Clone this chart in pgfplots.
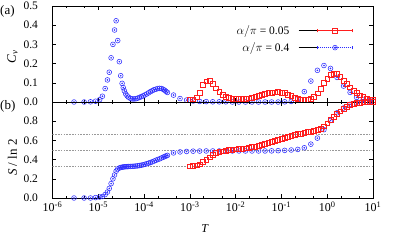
\documentclass[border=0pt]{standalone}
\usepackage{fontspec}
\setmainfont{Liberation Serif}
\usepackage{pgfplots}
\pgfplotsset{compat=1.18}
\usepackage{pgfplotstable}
\usetikzlibrary{plotmarks}

\definecolor{myred}{RGB}{255,30,30}
\definecolor{myblue}{RGB}{45,45,255}

\pgfdeclareplotmark{odot}{%
  \pgfpathcircle{\pgfpointorigin}{\pgfplotmarksize}\pgfusepathqstroke
  \pgfpathcircle{\pgfpointorigin}{0.38\pgfplotmarksize}\pgfusepathqfill}

% alpha/pi = 0.4 : low-T dense part
\pgfplotstableread{
T Cv S
2.951e-6 0.000 0.000
4.898e-6 0.000 0.000
6.761e-6 0.001 0.000
8.710e-6 0.004 0.004
1.0715e-5 0.012 0.010
1.2303e-5 0.030 0.016
1.4125e-5 0.070 0.036
1.5849e-5 0.115 0.062
1.7378e-5 0.155 0.100
1.9055e-5 0.230 0.150
2.0893e-5 0.300 0.200
2.2646e-5 0.375 0.240
2.4547e-5 0.423 0.280
2.6607e-5 0.320 0.303
2.8840e-5 0.210 0.312
3.0903e-5 0.137 0.318
3.3113e-5 0.097 0.321
3.5075e-5 0.075 0.323
3.7154e-5 0.058 0.325
3.9811e-5 0.042 0.326
4.2658e-5 0.032 0.327
4.5709e-5 0.025 0.328
5.0119e-5 0.019 0.329
5.4954e-5 0.016 0.330
6.0256e-5 0.016 0.331
6.6069e-5 0.017 0.333
7.2444e-5 0.020 0.335
7.9433e-5 0.024 0.338
8.7096e-5 0.028 0.342
9.5499e-5 0.032 0.346
1.0471e-4 0.037 0.351
1.1482e-4 0.042 0.357
1.2589e-4 0.048 0.363
1.3804e-4 0.054 0.370
1.5136e-4 0.059 0.377
1.6596e-4 0.064 0.385
1.8197e-4 0.067 0.393
1.9953e-4 0.070 0.401
2.1878e-4 0.071 0.408
2.3988e-4 0.070 0.417
2.6303e-4 0.066 0.425
2.8184e-4 0.061 0.432
3.0200e-4 0.055 0.438
3.2359e-4 0.050 0.444
}\bluelow

% alpha/pi = 0.4 : sparse part
\pgfplotstableread{
T Cv S
4.394e-4 0.036 0.470
6.1054e-4 0.018 0.480
8.4834e-4 0.010 0.485
1.1788e-3 0.005 0.488
1.6379e-3 0.003 0.489
2.2758e-3 0.002 0.490
3.1623e-3 0.001 0.490
4.394e-3 0.001 0.490
6.1054e-3 0.001 0.490
8.4834e-3 0.000 0.490
1.1788e-2 0.000 0.490
1.6379e-2 0.000 0.490
2.2758e-2 0.000 0.490
3.1623e-2 0.000 0.490
4.394e-2 0.000 0.490
6.1054e-2 0.000 0.491
8.4834e-2 0.000 0.493
0.11788 0.001 0.496
0.16379 0.003 0.500
0.22758 0.017 0.506
0.31623 0.054 0.523
0.4394 0.109 0.561
0.61054 0.165 0.624
0.84834 0.190 0.712
1.1788 0.175 0.807
1.6379 0.128 0.887
2.2758 0.083 0.937
3.1623 0.050 0.976
4.394 0.024 0.997
6.1054 0.013 1.000
8.4834 0.008 1.000
}\bluehigh

% alpha/pi = 0.05
\pgfplotstableread{
T Cv S
1.0e-3 0.010 0.330
1.1788e-3 0.014 0.335
1.3895e-3 0.025 0.340
1.6379e-3 0.046 0.352
1.9307e-3 0.088 0.374
2.2758e-3 0.108 0.398
2.6827e-3 0.112 0.425
3.1623e-3 0.097 0.449
3.7276e-3 0.072 0.467
4.3940e-3 0.052 0.478
5.1795e-3 0.038 0.486
6.1054e-3 0.027 0.493
7.1969e-3 0.020 0.500
8.4834e-3 0.017 0.504
1.0e-2 0.016 0.508
1.1788e-2 0.016 0.511
1.3895e-2 0.016 0.515
1.6379e-2 0.017 0.518
1.9307e-2 0.019 0.524
2.2758e-2 0.024 0.530
2.6827e-2 0.029 0.537
3.1623e-2 0.034 0.546
3.7276e-2 0.038 0.556
4.3940e-2 0.042 0.567
5.1795e-2 0.046 0.577
6.1054e-2 0.049 0.588
7.1969e-2 0.051 0.598
8.4834e-2 0.052 0.608
0.1 0.050 0.619
0.11788 0.046 0.630
0.13895 0.039 0.641
0.16379 0.032 0.650
0.19307 0.024 0.660
0.22758 0.017 0.666
0.26827 0.012 0.673
0.31623 0.010 0.679
0.37276 0.011 0.686
0.43940 0.015 0.692
0.51795 0.027 0.700
0.61054 0.045 0.708
0.71969 0.068 0.723
0.84834 0.100 0.748
1.0 0.123 0.778
1.1788 0.140 0.811
1.3895 0.148 0.843
1.6379 0.145 0.875
1.9307 0.132 0.903
2.2758 0.112 0.930
2.6827 0.094 0.952
3.1623 0.077 0.968
3.7276 0.060 0.982
4.3940 0.047 0.990
5.1795 0.035 0.995
6.1054 0.027 0.998
7.1969 0.019 0.999
8.4834 0.014 1.000
10 0.010 1.000
}\redtab

\begin{document}
\begin{tikzpicture}[font=\fontsize{11.5bp}{13.8bp}\selectfont]
\path[use as bounding box] (0bp,0bp) rectangle (395bp,-240bp);

\begin{axis}[
  xmode=log, xmin=1e-6, xmax=10,
  width=320.5bp, height=96bp, scale only axis,
  tick align=inside,
  major tick length=4bp, minor tick length=2bp,
  xtick={1e-6,1e-5,1e-4,1e-3,1e-2,1e-1,1,10},
  minor xtick={2e-6,5e-6,2e-5,5e-5,2e-4,5e-4,2e-3,5e-3,2e-2,5e-2,2e-1,5e-1,2,5},
  axis line style={line width=0.7bp},
  every tick/.style={black, line width=0.5bp},
  yticklabel style={xshift=-11bp},
  at={(52.5bp,-102bp)}, anchor=south west,
  ymin=0, ymax=0.5,
  ytick={0,0.1,0.2,0.3,0.4,0.5},
  yticklabels={0.0,0.1,0.2,0.3,0.4,0.5},
  xticklabels={},
  ylabel={\textit{C}\textsubscript{\textit{v}}},
  ylabel style={at={(axis description cs:-0.125,0.47)}, anchor=center, font=\fontsize{13bp}{15bp}\selectfont},
  legend style={at={(rel axis cs:0.9376,0.81)}, anchor=north east, draw=none, fill=none,
    row sep=4.5bp, column sep=8bp, inner sep=0pt, nodes={inner sep=1bp}},
  legend cell align=right,
  legend plot pos=right,
]
\addlegendimage{legend image code/.code={
  \path (0bp,0bp) -- (18bp,0bp);
  \draw[myred, line width=0.5bp] (19bp,0bp) -- (54bp,0bp);
  \draw[myred, line width=0.5bp] (19bp,-1.8bp) -- (19bp,1.8bp) (54bp,-1.8bp) -- (54bp,1.8bp);
  \draw[myred, line width=0.55bp] (34.1bp,-2.4bp) rectangle (38.9bp,2.4bp);
}}
\addlegendentry{$\alpha/\pi$ = 0.05}
\addlegendimage{legend image code/.code={
  \path (0bp,0bp) -- (18bp,0bp);
  \draw[myblue, line width=0.5bp, dash pattern=on 1.2bp off 0.8bp] (19bp,0bp) -- (54bp,0bp);
  \draw[myblue, line width=0.5bp] (19bp,-1.8bp) -- (19bp,1.8bp) (54bp,-1.8bp) -- (54bp,1.8bp);
  \draw[myblue, line width=0.55bp] (36.5bp,0bp) circle (2.4bp);
  \fill[myblue] (36.5bp,0bp) circle (0.9bp);
}}
\addlegendentry{$\alpha/\pi$ = 0.4}
\addplot[only marks, mark=odot, mark size=2.4bp, myblue, line width=0.55bp, forget plot] table[x=T, y=Cv] {\bluelow};
\addplot[only marks, mark=odot, mark size=2.4bp, myblue, line width=0.55bp, forget plot] table[x=T, y=Cv] {\bluehigh};
\addplot[only marks, mark=square, mark size=2.4bp, myred, line width=0.55bp, forget plot] table[x=T, y=Cv] {\redtab};
\end{axis}

\begin{axis}[
  xmode=log, xmin=1e-6, xmax=10,
  width=320.5bp, height=96bp, scale only axis,
  tick align=inside,
  major tick length=4bp, minor tick length=2bp,
  xtick={1e-6,1e-5,1e-4,1e-3,1e-2,1e-1,1,10},
  minor xtick={2e-6,5e-6,2e-5,5e-5,2e-4,5e-4,2e-3,5e-3,2e-2,5e-2,2e-1,5e-1,2,5},
  axis line style={line width=0.7bp},
  every tick/.style={black, line width=0.5bp},
  yticklabel style={xshift=-11bp},
  xticklabel style={font=\fontsize{12bp}{14bp}\selectfont},
  at={(52.5bp,-102bp)}, anchor=north west,
  ymin=0, ymax=1,
  ytick={0,0.2,0.4,0.6,0.8},
  yticklabels={0.0,0.2,0.4,0.6,0.8},
  xticklabels={10\textsuperscript{-6},10\textsuperscript{-5},10\textsuperscript{-4},10\textsuperscript{-3},10\textsuperscript{-2},10\textsuperscript{-1},10\textsuperscript{0},10\textsuperscript{1}},
  xlabel={\textit{T}},
  xlabel style={at={(axis description cs:0.476,-0.32)}, anchor=center, font=\fontsize{12bp}{14bp}\selectfont},
  ylabel={\textit{S} / ln 2},
  ylabel style={at={(axis description cs:-0.125,0.42)}, anchor=center, font=\fontsize{13bp}{15bp}\selectfont},
]
\addplot[gray!80, line width=0.45bp, dash pattern=on 1.6bp off 1.2bp, forget plot] coordinates {(1e-6,0.3333) (10,0.3333)};
\addplot[gray!80, line width=0.45bp, dash pattern=on 1.6bp off 1.2bp, forget plot] coordinates {(1e-6,0.5) (10,0.5)};
\addplot[gray!80, line width=0.45bp, dash pattern=on 1.6bp off 1.2bp, forget plot] coordinates {(1e-6,0.6667) (10,0.6667)};
\addplot[only marks, mark=odot, mark size=2.4bp, myblue, line width=0.55bp] table[x=T, y=S] {\bluelow};
\addplot[only marks, mark=odot, mark size=2.4bp, myblue, line width=0.55bp] table[x=T, y=S] {\bluehigh};
\addplot[only marks, mark=square, mark size=2.4bp, myred, line width=0.55bp] table[x=T, y=S] {\redtab};
\node[anchor=west, inner sep=0pt, xshift=4bp] at (rel axis cs:1,0.6667) {2/3};
\node[anchor=west, inner sep=0pt, xshift=4bp] at (rel axis cs:1,0.5) {1/2};
\node[anchor=west, inner sep=0pt, xshift=4bp] at (rel axis cs:1,0.3333) {1/3};
\end{axis}

\node[anchor=west, inner sep=0pt, font=\fontsize{13bp}{15bp}\selectfont] at (0bp,-11bp) {(a)};
\node[anchor=west, inner sep=0pt, font=\fontsize{13bp}{15bp}\selectfont] at (0bp,-106bp) {(b)};
\end{tikzpicture}
\end{document}
